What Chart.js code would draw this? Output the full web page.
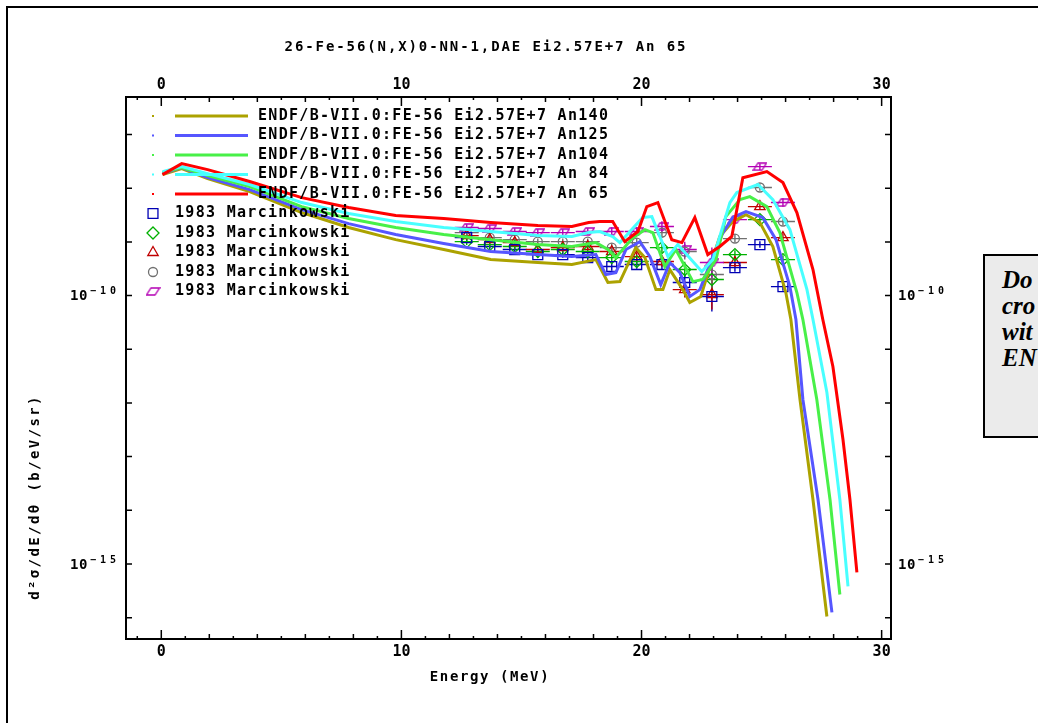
<!DOCTYPE html>
<html>
<head>
<meta charset="utf-8">
<script src="https://cdn.jsdelivr.net/npm/chart.js"></script>
<style>
  html, body { margin: 0; padding: 0; background: #fff; overflow: hidden; }
  #wrap { position: relative; width: 1038px; height: 723px; overflow: hidden; }
  #chart { position: absolute; left: 0; top: 0; }
  #note {
    position: absolute; left: 983px; top: 254px; width: 200px; height: 184px;
    box-sizing: border-box; border: 2px solid #000; background: #ebebeb;
    font: italic bold 25px "Liberation Serif", "DejaVu Serif", serif;
    line-height: 26px; padding: 11px 0 0 17px; white-space: nowrap;
  }
</style>
</head>
<body>
<div id="wrap">
  <canvas id="chart" width="1038" height="723"></canvas>
  <div id="note">Do<br>cro<br>wit<br>EN</div>
</div>
<script>
// ---- data ----
const chartTitle = '26-Fe-56(N,X)0-NN-1,DAE Ei2.57E+7 An 65';
const xTitle = 'Energy (MeV)';
const yTitle = 'd²σ/dE/dθ (b/eV/sr)';
const xTickValues = [0, 10, 20, 30];
const yTickPowers = [-10, -15];

const curveLabels = [
  'ENDF/B-VII.0:FE-56 Ei2.57E+7 An140',
  'ENDF/B-VII.0:FE-56 Ei2.57E+7 An125',
  'ENDF/B-VII.0:FE-56 Ei2.57E+7 An104',
  'ENDF/B-VII.0:FE-56 Ei2.57E+7 An 84',
  'ENDF/B-VII.0:FE-56 Ei2.57E+7 An 65'
];
const expLabel = '1983 Marcinkowski';

// ENDF/B-VII.0 curves (energy in MeV, b/eV/sr)
const e140 = [0.05, 0.85, 1.93, 3.68, 5.85, 7.8, 9.76, 11.76, 13.72, 15.68, 17.1, 18.1, 18.6, 19.1, 19.76, 20.14, 20.6, 20.89, 21.18, 21.72, 22.01, 22.47, 22.85, 23.26, 23.8, 24.35, 24.93, 25.47, 26.01, 26.22, 26.6, 27.14, 27.72];
const y140 = [1.79e-8, 2.32e-8, 1.51e-8, 8.65e-9, 3.52e-9, 1.85e-9, 1.10e-9, 7.2e-10, 4.68e-10, 4.12e-10, 3.78e-10, 4.68e-10, 1.75e-10, 1.82e-10, 7.8e-10, 5.1e-10, 1.29e-10, 1.29e-10, 3.05e-10, 1.29e-10, 7.4e-11, 9.6e-11, 3.47e-10, 1.26e-9, 2.39e-9, 3.22e-9, 2.29e-9, 8.2e-10, 1.14e-10, 3.57e-11, 1.16e-12, 1.59e-14, 1.05e-16];

const e125 = [0.05, 0.85, 1.93, 3.68, 5.85, 7.8, 9.76, 11.76, 13.72, 15.68, 17.1, 18.1, 18.51, 18.93, 19.35, 19.93, 20.35, 20.8, 21.18, 21.6, 22.01, 22.43, 22.97, 23.39, 23.8, 24.35, 25.05, 25.6, 26.18, 26.43, 26.72, 27.35, 27.93];
const y125 = [1.87e-8, 2.42e-8, 1.57e-8, 9.4e-9, 3.99e-9, 2.19e-9, 1.37e-9, 9.3e-10, 6.6e-10, 5.8e-10, 5.32e-10, 5.8e-10, 2.46e-10, 2.68e-10, 7.2e-10, 1.01e-9, 5.32e-10, 1.60e-10, 4.12e-10, 2.68e-10, 9.6e-11, 1.29e-10, 5.32e-10, 1.49e-9, 2.84e-9, 3.66e-9, 2.84e-9, 1.10e-9, 1.47e-10, 3.57e-11, 1.16e-12, 1.59e-14, 1.25e-16];

const e104 = [0.05, 0.85, 1.93, 3.68, 5.85, 7.8, 9.76, 11.76, 13.72, 15.68, 17.1, 18.1, 18.6, 18.93, 19.64, 20.14, 20.47, 20.97, 21.43, 22.14, 22.55, 23.1, 23.51, 24.1, 24.51, 25.22, 25.76, 26.47, 26.72, 27.3, 27.85, 28.26];
const y104 = [1.95e-8, 2.42e-8, 1.72e-8, 1.07e-8, 4.54e-9, 2.72e-9, 1.85e-9, 1.37e-9, 1.10e-9, 8.9e-10, 8.2e-10, 9.7e-10, 7.2e-10, 5.1e-10, 1.20e-9, 1.69e-9, 1.49e-9, 3.47e-10, 7.2e-10, 1.82e-10, 1.99e-10, 4.68e-10, 2.96e-9, 6.14e-9, 6.98e-9, 4.54e-9, 1.49e-9, 1.14e-10, 3.57e-11, 1.16e-12, 1.59e-14, 2.70e-16];

const e84 = [0.05, 0.85, 1.93, 3.68, 5.85, 7.8, 9.76, 11.76, 13.72, 15.68, 17.1, 17.8, 18.26, 18.8, 19.1, 20.05, 20.43, 21.1, 21.51, 22.51, 22.97, 23.68, 23.97, 24.85, 25.47, 26.18, 26.89, 27.14, 27.72, 28.26, 28.6];
const y84 = [2.04e-8, 2.52e-8, 1.87e-8, 1.17e-8, 5.40e-9, 3.37e-9, 2.39e-9, 1.85e-9, 1.56e-9, 1.31e-9, 1.26e-9, 1.49e-9, 1.56e-9, 1.26e-9, 9.7e-10, 2.84e-9, 2.96e-9, 5.32e-10, 8.9e-10, 2.80e-10, 4.68e-10, 5.40e-9, 8.28e-9, 1.17e-8, 6.14e-9, 1.69e-9, 1.29e-10, 3.57e-11, 1.56e-12, 1.59e-14, 3.81e-16];

const e65 = [0.05, 0.85, 1.93, 3.68, 5.85, 7.8, 9.76, 11.76, 13.72, 15.68, 17.1, 17.8, 18.26, 18.8, 19.3, 19.85, 20.22, 20.68, 21.26, 21.68, 22.22, 22.76, 23.26, 23.76, 24.22, 25.22, 25.89, 26.47, 27.14, 27.55, 27.97, 28.39, 28.68, 28.97];
const y65 = [1.79e-8, 2.87e-8, 2.22e-8, 1.33e-8, 6.68e-9, 4.36e-9, 3.09e-9, 2.72e-9, 2.29e-9, 2.01e-9, 1.93e-9, 2.29e-9, 2.39e-9, 2.39e-9, 1.01e-9, 1.56e-9, 4.54e-9, 5.40e-9, 1.10e-9, 9.7e-10, 2.84e-9, 5.8e-10, 8.2e-10, 1.26e-9, 1.57e-8, 2.04e-8, 1.27e-8, 3.52e-9, 3.05e-10, 3.57e-11, 4.76e-12, 2.08e-13, 1.59e-14, 6.95e-16];

// 1983 Marcinkowski measurements
const expEnergy = [12.72, 13.68, 14.72, 15.68, 16.72, 17.76, 18.76, 19.8, 20.85, 21.8, 22.93, 23.89, 24.93, 25.89];
const exp140 = [1.20e-9, 8.2e-10, 7.2e-10, 5.8e-10, 5.8e-10, 5.1e-10, 3.47e-10, 3.78e-10, 3.78e-10, 1.75e-10, 9.6e-11, 3.32e-10, 8.9e-10, 1.47e-10];
const exp125 = [1.01e-9, 8.9e-10, 8.2e-10, 6.6e-10, 7.2e-10, 6.6e-10, 5.1e-10, 4.30e-10, 7.8e-10, 3.05e-10, 1.99e-10, 5.8e-10, 2.60e-9, 4.68e-10];
const exp104 = [1.31e-9, 1.10e-9, 9.7e-10, 7.2e-10, 7.8e-10, 8.2e-10, 6.6e-10, 5.32e-10, 4.30e-10, 1.29e-10, 1.04e-10, 4.12e-10, 4.54e-9, 1.20e-9];
const exp84 = [1.49e-9, 1.20e-9, 1.10e-9, 1.01e-9, 1.01e-9, 1.01e-9, 7.8e-10, 9.7e-10, 1.49e-9, 6.6e-10, 2.46e-10, 1.15e-9, 1.03e-8, 2.39e-9];
const exp65 = [1.85e-9, 1.77e-9, 1.56e-9, 1.49e-9, 1.49e-9, 1.56e-9, 1.56e-9, 1.56e-9, 1.93e-9, 7.2e-10, 4.12e-10, 2.60e-9, 2.52e-8, 5.40e-9];
const expHalfWidth = [0.5, 0.5, 0.5, 0.5, 0.5, 0.5, 0.5, 0.5, 0.5, 0.5, 0.5, 0.5, 0.5, 0.5];
const expErrFactor = [1.15, 1.15, 1.15, 1.15, 1.15, 1.15, 1.2, 1.2, 1.25, 1.4, 1.9, 1.2, 1.15, 1.2];

// ---- styling ----
const monoFont = '"DejaVu Sans Mono", "Liberation Mono", monospace';
const lineColors = ['#aca200', '#5656ff', '#48f048', '#48ffff', '#ff0000'];
const expColors = ['#0000b4', '#00b000', '#c00000', '#707070', '#b400b4'];

function makeParallelogram(color) {
  const c = document.createElement('canvas');
  c.width = 15; c.height = 9;
  const g = c.getContext('2d');
  g.strokeStyle = color; g.lineWidth = 1.3;
  g.beginPath();
  g.moveTo(5.5, 1); g.lineTo(14, 1); g.lineTo(9.5, 8); g.lineTo(1, 8);
  g.closePath(); g.stroke();
  return c;
}
const expStyles = [
  { style: 'rect', radius: 7 },
  { style: 'rectRot', radius: 6 },
  { style: 'triangle', radius: 6 },
  { style: 'circle', radius: 4.5 },
  { style: makeParallelogram(expColors[4]), radius: 6 }
];

const pts = (xs, ys) => xs.map((x, i) => ({ x: x, y: ys[i] }));
const curves = [[e140, y140], [e125, y125], [e104, y104], [e84, y84], [e65, y65]];
const expSets = [exp140, exp125, exp104, exp84, exp65];

const datasets = [];
curves.forEach((c, i) => {
  datasets.push({
    label: curveLabels[i],
    data: pts(c[0], c[1]),
    borderColor: lineColors[i],
    borderWidth: 3,
    pointRadius: 0,
    tension: 0,
    fill: false,
    order: 4 - i
  });
});
expSets.forEach((s, i) => {
  datasets.push({
    label: expLabel,
    data: pts(expEnergy, s),
    showLine: false,
    borderColor: expColors[i],
    backgroundColor: 'rgba(0,0,0,0)',
    pointStyle: expStyles[i].style,
    pointRadius: expStyles[i].radius,
    pointBorderWidth: 1.3,
    order: 10
  });
});

const xMin = -1.47, xMax = 30.39;
const yMin = 4.0e-17, yMax = 5.0e-7;

const tickFont = { family: monoFont, size: 15, weight: 'bold' };
function xAxis(pos, pad, h) {
  return {
    type: 'linear', position: pos, min: xMin, max: xMax, bounds: 'data',
    grid: { display: false, drawTicks: false }, border: { display: false },
    afterBuildTicks: s => { s.ticks = xTickValues.map(v => ({ value: v })); },
    afterFit: s => { s.height = h; },
    ticks: { autoSkip: false, maxRotation: 0, padding: pad, color: '#000', font: tickFont,
      callback: v => String(v) }
  };
}
// y labels are drawn by the plugin (true superscripts), the scales only place them
function yAxis(pos, w) {
  return {
    type: 'logarithmic', position: pos, min: yMin, max: yMax, bounds: 'data',
    grid: { display: false, drawTicks: false }, border: { display: false },
    afterBuildTicks: s => { s.ticks = yTickPowers.map(p => ({ value: Math.pow(10, p) })); },
    afterFit: s => { s.width = w; },
    ticks: { autoSkip: false, color: '#000', font: tickFont, callback: () => '' }
  };
}

function setText(ctx, size, weight, spacing) {
  ctx.font = weight + ' ' + size + 'px ' + monoFont;
  ctx.letterSpacing = spacing + 'px';
  ctx.fillStyle = '#000';
}

function powerLabel(ctx, p, x, y, alignRight) {
  const sup = '−' + String(-p);
  setText(ctx, 14, 'bold', 0.5);
  const w1 = ctx.measureText('10').width;
  setText(ctx, 10, 'bold', 4);
  const w2 = ctx.measureText(sup).width;
  const x0 = alignRight ? x - (w1 + 2 + w2) : x;
  ctx.textAlign = 'left'; ctx.textBaseline = 'middle';
  setText(ctx, 14, 'bold', 0.5);
  ctx.fillText('10', x0, y);
  setText(ctx, 10, 'bold', 4);
  ctx.fillText(sup, x0 + w1 + 2, y - 5);
}

const decorations = {
  id: 'decorations',
  beforeDatasetsDraw(chart) {
    const ctx = chart.ctx, a = chart.chartArea;
    const xs = chart.scales.x, ys = chart.scales.y;
    ctx.save();
    ctx.beginPath();
    ctx.rect(a.left, a.top, a.right - a.left, a.bottom - a.top);
    ctx.clip();
    ctx.lineWidth = 1.4;
    expSets.forEach((s, k) => {
      ctx.strokeStyle = expColors[k];
      expEnergy.forEach((e, i) => {
        const px = xs.getPixelForValue(e), py = ys.getPixelForValue(s[i]);
        ctx.beginPath();
        ctx.moveTo(xs.getPixelForValue(e - expHalfWidth[i]), py);
        ctx.lineTo(xs.getPixelForValue(e + expHalfWidth[i]), py);
        ctx.moveTo(px, ys.getPixelForValue(s[i] * expErrFactor[i]));
        ctx.lineTo(px, ys.getPixelForValue(s[i] / expErrFactor[i]));
        ctx.stroke();
      });
    });
    ctx.restore();
  },
  afterDraw(chart) {
    const ctx = chart.ctx, a = chart.chartArea;
    const xs = chart.scales.x, ys = chart.scales.y;
    ctx.save();
    ctx.strokeStyle = '#000';

    // outer frame of the page
    ctx.lineWidth = 2;
    ctx.beginPath();
    ctx.moveTo(7, 723); ctx.lineTo(7, 7); ctx.lineTo(1038, 7);
    ctx.stroke();

    // plot frame
    ctx.strokeRect(a.left, a.top, a.right - a.left, a.bottom - a.top);

    // inward ticks
    ctx.lineWidth = 1.5;
    ctx.beginPath();
    for (let v = Math.ceil(xMin); v <= Math.floor(xMax); v++) {
      const px = xs.getPixelForValue(v);
      const len = v % 10 === 0 ? 9 : (v % 2 === 0 ? 5 : 3);
      ctx.moveTo(px, a.bottom); ctx.lineTo(px, a.bottom - len);
      ctx.moveTo(px, a.top); ctx.lineTo(px, a.top + len);
    }
    for (let p = -16; p <= -7; p++) {
      const py = ys.getPixelForValue(Math.pow(10, p));
      ctx.moveTo(a.left, py); ctx.lineTo(a.left + 6, py);
      ctx.moveTo(a.right, py); ctx.lineTo(a.right - 6, py);
    }
    ctx.stroke();

    // y tick labels on both sides
    yTickPowers.forEach(p => {
      const py = ys.getPixelForValue(Math.pow(10, p));
      powerLabel(ctx, p, a.left - 6, py + 1, true);
      powerLabel(ctx, p, a.right + 7, py + 1, false);
    });

    // titles
    setText(ctx, 14, 'bold', 1.9);
    ctx.textAlign = 'center'; ctx.textBaseline = 'middle';
    ctx.fillText(chartTitle, 486, 47);
    setText(ctx, 14, 'bold', 1.6);
    ctx.fillText(xTitle, 490, 677);
    ctx.save();
    ctx.translate(35, 497);
    ctx.rotate(-Math.PI / 2);
    setText(ctx, 14, 'bold', 2.4);
    ctx.fillText(yTitle, 0, 0);
    ctx.restore();

    // legend inside the plot
    const row = i => a.top + 19 + 19.5 * i;
    setText(ctx, 15, 'bold', 1.3);
    ctx.textAlign = 'left'; ctx.textBaseline = 'middle';
    curveLabels.forEach((lbl, i) => {
      const y = row(i);
      ctx.fillStyle = lineColors[i];
      ctx.fillRect(a.left + 26, y - 1, 2, 2);
      ctx.strokeStyle = lineColors[i];
      ctx.lineWidth = 3;
      ctx.beginPath();
      ctx.moveTo(a.left + 49, y); ctx.lineTo(a.left + 122, y);
      ctx.stroke();
      ctx.fillStyle = '#000';
      ctx.fillText(lbl, a.left + 132, y);
    });
    expSets.forEach((s, i) => {
      const y = row(5 + i);
      ctx.strokeStyle = expColors[i];
      ctx.fillStyle = 'rgba(0,0,0,0)';
      ctx.lineWidth = 1.3;
      Chart.helpers.drawPoint(ctx, {
        pointStyle: expStyles[i].style, radius: expStyles[i].radius, borderWidth: 1.3, rotation: 0
      }, a.left + 27, y);
      ctx.fillStyle = '#000';
      ctx.fillText(expLabel, a.left + 49, y);
    });
    ctx.restore();
  }
};

new Chart(document.getElementById('chart'), {
  type: 'line',
  data: { datasets: datasets },
  options: {
    responsive: false,
    animation: false,
    layout: { padding: 0 },
    plugins: { legend: { display: false }, tooltip: { enabled: false }, title: { display: false } },
    scales: {
      x: xAxis('bottom', 4, 84),
      x2: xAxis('top', 3, 97),
      y: yAxis('left', 126),
      y2: yAxis('right', 147)
    }
  },
  plugins: [decorations]
});
</script>
</body>
</html>
